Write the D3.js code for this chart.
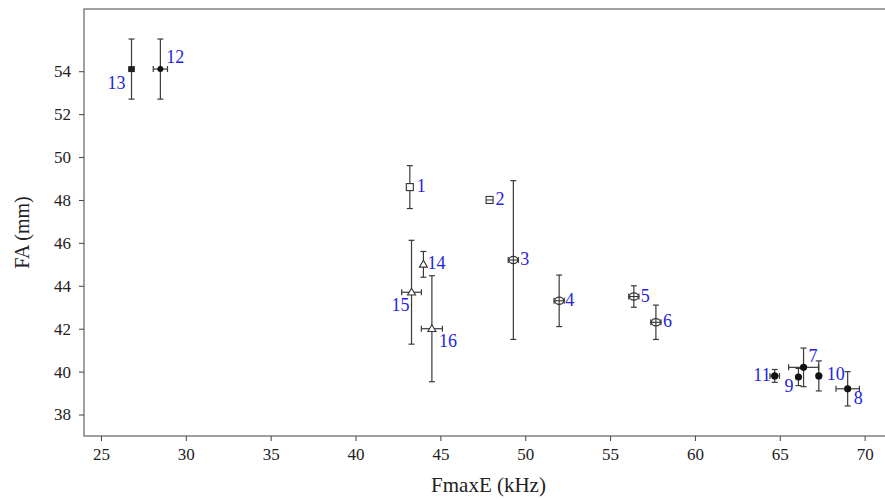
<!DOCTYPE html>
<html>
<head>
<meta charset="utf-8">
<script src="https://cdn.jsdelivr.net/npm/d3@7"></script>
<style>
  body { margin: 0; background: #fff; }
  svg, svg text { font-family: 'Liberation Serif', 'Times New Roman', serif; }
  svg { display: block; }
</style>
</head>
<body>
<div id="chart"></div>
<script>
// data
const ids      = [1, 2, 3, 4, 5, 6, 7, 8, 9, 10, 11, 12, 13, 14, 15, 16]
const fmaxE    = [43.2, 47.9, 49.3, 52.0, 56.4, 57.7, 66.4, 69.0, 66.1, 67.3, 64.7, 28.5, 26.8, 44.0, 43.3, 44.5]
const fmaxEErr = [0.1, 0.2, 0.3, 0.3, 0.3, 0.3, 0.88, 0.69, 0.15, 0.2, 0.28, 0.42, 0.2, 0.1, 0.58, 0.62]
const fa       = [48.6, 48.0, 45.2, 43.3, 43.5, 42.3, 40.2, 39.2, 39.75, 39.8, 39.8, 54.1, 54.1, 45.0, 43.7, 42.0]
const faErr    = [1.0, 0.1, 3.7, 1.2, 0.5, 0.8, 0.9, 0.8, 0.4, 0.7, 0.3, 1.4, 1.4, 0.6, 2.42, 2.47]
const groups   = ["square", "square", "circle", "circle", "circle", "circle",
                  "dot", "dot", "dot", "dot", "dot", "dot", "block", "triangle", "triangle", "triangle"]
const xTicks   = [25, 30, 35, 40, 45, 50, 55, 60, 65, 70]
const yTicks   = [38, 40, 42, 44, 46, 48, 50, 52, 54]

// label placement (px from point centre)
const labelOffset = {
  1: [7, 5, "start"], 2: [6, 5, "start"], 3: [7, 5, "start"], 4: [6, 5, "start"],
  5: [7, 5, "start"], 6: [7, 5, "start"], 7: [5, -5, "start"], 8: [6, 15, "start"],
  9: [-5, 15, "end"], 10: [8, 4, "start"], 11: [-4, 5, "end"], 12: [6, -6, "start"],
  13: [-6, 20, "end"], 14: [4, 5, "start"], 15: [-2, 19, "end"], 16: [7, 18, "start"]
}

const width = 885, height = 500
const plotLeft = 84, plotTop = 9, plotRight = 885, plotBottom = 436
const serif = "'Liberation Serif', 'Times New Roman', serif"
const barColor = "#3a3a3a", axisColor = "#6e6e6e", labelColor = "#2424e0"

const points = ids.map((id, i) => ({
  id, x: fmaxE[i], xe: fmaxEErr[i], y: fa[i], ye: faErr[i], g: groups[i]
}))

const x = d3.scaleLinear().domain([24, 71.2]).range([plotLeft, plotRight])
const y = d3.scaleLinear().domain([37, 56.9]).range([plotBottom, plotTop])

const svg = d3.select("#chart").append("svg")
  .attr("width", width)
  .attr("height", height)
  .attr("font-family", serif)

// frame (right side runs off the page)
svg.append("rect")
  .attr("x", plotLeft).attr("y", plotTop)
  .attr("width", plotRight - plotLeft + 4).attr("height", plotBottom - plotTop)
  .attr("fill", "none").attr("stroke", axisColor).attr("stroke-width", 1.3)

// axes
const xAxis = svg.append("g")
  .attr("transform", `translate(0,${plotBottom})`)
  .call(d3.axisBottom(x).tickValues(xTicks).tickSize(5).tickPadding(7))
const yAxis = svg.append("g")
  .attr("transform", `translate(${plotLeft},0)`)
  .call(d3.axisLeft(y).tickValues(yTicks).tickSize(5).tickPadding(8))

;[xAxis, yAxis].forEach(a => {
  a.attr("font-family", serif).attr("font-size", 17)
  a.select(".domain").remove()
  a.selectAll("line").attr("stroke", "#444")
  a.selectAll("text").attr("fill", "#222")
})

svg.append("text")
  .attr("x", (plotLeft + plotRight) / 2 + 4).attr("y", 492)
  .attr("text-anchor", "middle")
  .attr("fill", "#222")
  .attr("font-size", 21)
  .text("FmaxE (kHz)")

svg.append("text")
  .attr("transform", `translate(29,${(plotTop + plotBottom) / 2 + 10}) rotate(-90)`)
  .attr("text-anchor", "middle")
  .attr("fill", "#222")
  .attr("font-size", 20)
  .text("FA (mm)")

// error bars
const cap = 3
const bars = svg.append("g").attr("stroke", barColor).attr("stroke-width", 1.2).attr("fill", "none")

points.forEach(d => {
  const cx = x(d.x), cy = y(d.y)
  const y1 = y(d.y + d.ye), y2 = y(d.y - d.ye)
  const x1 = x(d.x - d.xe), x2 = x(d.x + d.xe)
  bars.append("line").attr("x1", cx).attr("x2", cx).attr("y1", y1).attr("y2", y2)
  bars.append("line").attr("x1", cx - cap).attr("x2", cx + cap).attr("y1", y1).attr("y2", y1)
  bars.append("line").attr("x1", cx - cap).attr("x2", cx + cap).attr("y1", y2).attr("y2", y2)
  bars.append("line").attr("x1", x1).attr("x2", x2).attr("y1", cy).attr("y2", cy)
  if (x2 - x1 > 8) {
    bars.append("line").attr("x1", x1).attr("x2", x1).attr("y1", cy - cap).attr("y2", cy + cap)
    bars.append("line").attr("x1", x2).attr("x2", x2).attr("y1", cy - cap).attr("y2", cy + cap)
  }
})

// markers
const marks = svg.append("g")
points.forEach(d => {
  const cx = x(d.x), cy = y(d.y)
  if (d.g === "square") {
    marks.append("rect")
      .attr("x", cx - 3.5).attr("y", cy - 3.5).attr("width", 7).attr("height", 7)
      .attr("fill", "#fff").attr("stroke", "#333").attr("stroke-width", 1.1)
    if (d.id === 2) {
      marks.append("line").attr("x1", cx - 3.5).attr("x2", cx + 3.5).attr("y1", cy).attr("y2", cy)
        .attr("stroke", "#333").attr("stroke-width", 1)
    }
  } else if (d.g === "circle") {
    marks.append("ellipse")
      .attr("cx", cx).attr("cy", cy).attr("rx", 4.5).attr("ry", 3.6)
      .attr("fill", "#fff").attr("stroke", "#333").attr("stroke-width", 1.2)
    marks.append("line").attr("x1", cx - 5.5).attr("x2", cx + 5.5).attr("y1", cy).attr("y2", cy)
      .attr("stroke", "#333").attr("stroke-width", 1.1)
    marks.append("line").attr("x1", cx).attr("x2", cx).attr("y1", cy - 3.6).attr("y2", cy + 3.6)
      .attr("stroke", "#333").attr("stroke-width", 1.1)
  } else if (d.g === "dot") {
    marks.append("circle")
      .attr("cx", cx).attr("cy", cy).attr("r", d.id === 12 ? 3 : 3.6)
      .attr("fill", "#111")
  } else if (d.g === "block") {
    marks.append("rect")
      .attr("x", cx - 3.3).attr("y", cy - 3).attr("width", 6.6).attr("height", 6)
      .attr("fill", "#222")
  } else {
    const s = 4
    marks.append("path")
      .attr("d", `M${cx},${cy - s} L${cx + s},${cy + s * 0.7} L${cx - s},${cy + s * 0.7} Z`)
      .attr("fill", "#fff").attr("stroke", "#333").attr("stroke-width", 1.1)
  }
})

// point labels
svg.append("g")
  .attr("font-size", 18)
  .selectAll("text")
  .data(points)
  .join("text")
  .attr("x", d => x(d.x) + labelOffset[d.id][0])
  .attr("y", d => y(d.y) + labelOffset[d.id][1])
  .attr("text-anchor", d => labelOffset[d.id][2])
  .attr("fill", labelColor)
  .text(d => d.id)
</script>
</body>
</html>
